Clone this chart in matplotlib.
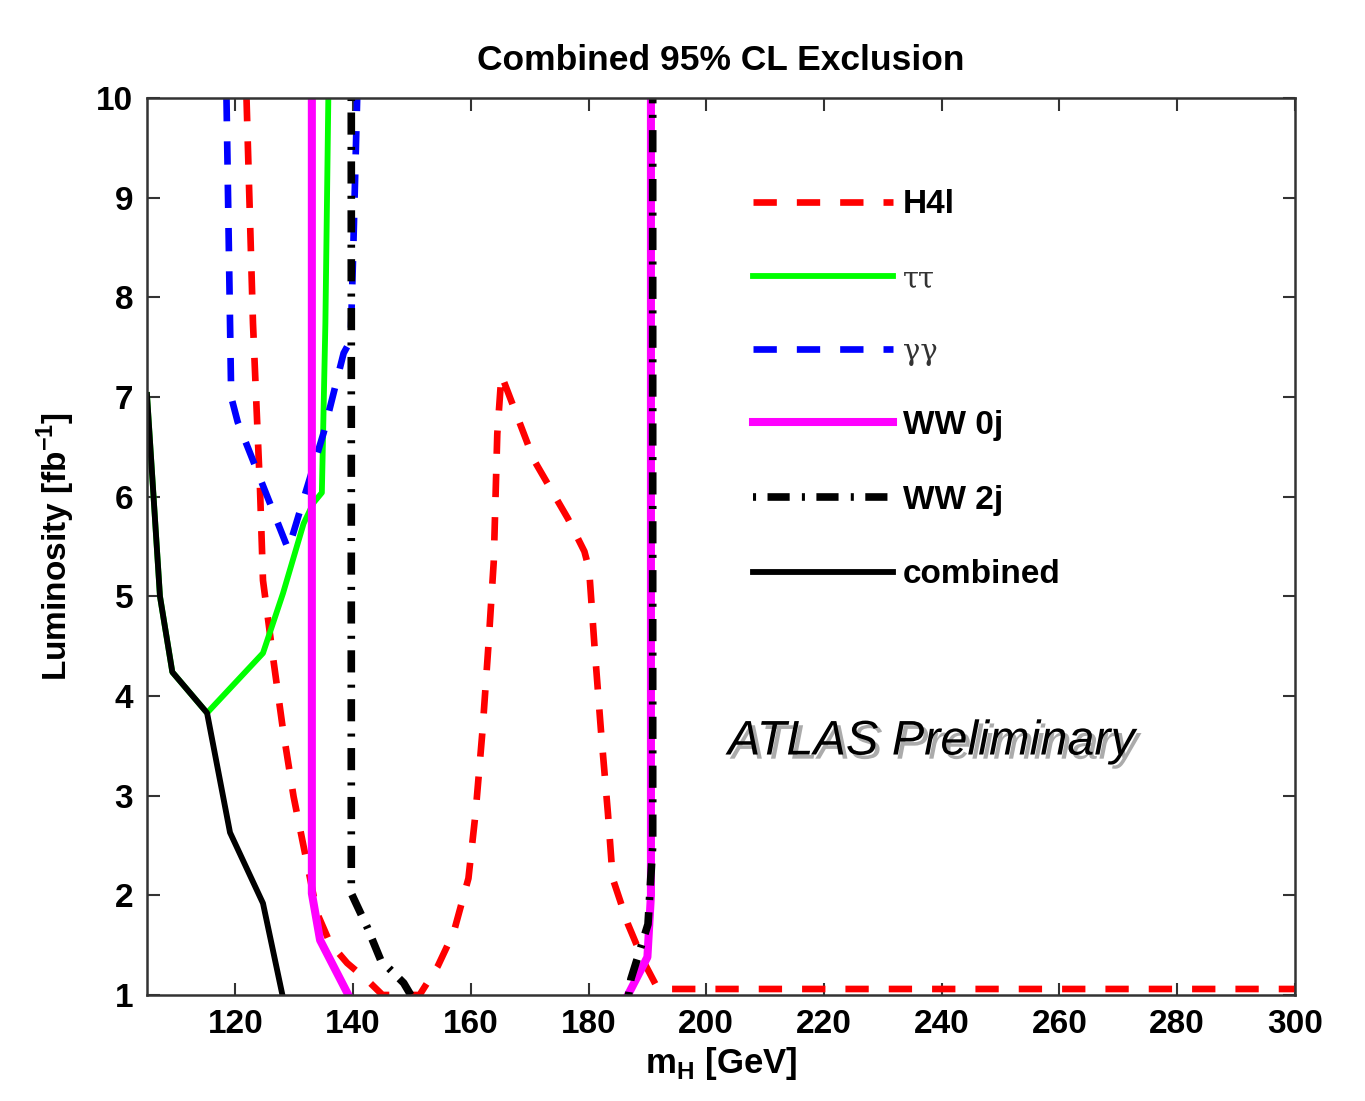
import numpy as np
from matplotlib import pyplot as plt
import matplotlib.patheffects as pe

plt.rcParams['font.family'] = ['Liberation Sans', 'DejaVu Sans']

# H4l (single contour)
h4l_m = [121.9, 123.0, 123.6, 124.2, 124.7, 126.4, 128.1, 129.9, 131.6, 133.9, 136.1, 139.0, 142.4, 145.0,
         151.3, 154.4, 157.1, 159.6, 160.8, 162.0, 163.0, 163.9, 164.5, 165.2, 170.7, 176.5, 179.3, 180.1,
         181.0, 182.1, 183.3, 184.1, 186.7, 189.4, 191.8, 193.0, 300.0]
h4l_L = [10, 7.74, 6.9, 6.07, 5.16, 4.39, 3.66, 2.99, 2.49, 1.82, 1.52, 1.32, 1.15, 1.0,
         1.0, 1.29, 1.63, 2.17, 2.82, 3.66, 4.51, 5.35, 6.63, 7.22, 6.37, 5.78, 5.45, 5.27,
         4.51, 3.66, 2.82, 2.17, 1.71, 1.33, 1.06, 1.06, 1.06]

# tau tau
tt_m = [105.0, 107.2, 109.3, 115.2, 124.7, 128.1, 131.6, 133.3, 134.7, 135.3, 135.8]
tt_L = [7.02, 5.0, 4.24, 3.83, 4.43, 5.03, 5.73, 5.94, 6.04, 7.74, 10]

# gamma gamma
gg_m = [118.5, 119.3, 120.4, 129.0, 135.0, 138.4, 139.6, 140.0, 140.7]
gg_L = [10, 7.0, 6.75, 5.47, 6.64, 7.44, 7.57, 8.4, 10]

# WW 0j (two pieces)
ww0a_m = [133.0, 133.0, 134.4, 139.2]
ww0a_L = [10, 2.02, 1.55, 1.0]
ww0b_m = [186.7, 190.0, 190.6, 190.6]
ww0b_L = [1.0, 1.38, 2.0, 10]

# WW 2j (two pieces)
ww2a_m = [139.7, 139.7, 142.4, 144.7, 148.6, 149.8]
ww2a_L = [10, 2.02, 1.68, 1.35, 1.12, 1.0]
ww2b_m = [186.8, 187.2, 190.1, 190.9, 190.9]
ww2b_L = [1.0, 1.16, 1.71, 2.5, 10]

# combined
comb_m = [105.0, 107.2, 109.3, 115.2, 119.1, 124.7, 128.0]
comb_L = [7.02, 5.0, 4.24, 3.83, 2.63, 1.92, 1.0]

xticks = [120, 140, 160, 180, 200, 220, 240, 260, 280, 300]
yticks = [1, 2, 3, 4, 5, 6, 7, 8, 9, 10]

fig = plt.figure(figsize=(13.65, 11.01), dpi=100)
ax = fig.add_axes([0.1077, 0.0963, 0.8410, 0.8147])

dash = (0, (3.5, 3.0))
dashdot = (0, (0.4, 1.5, 2.9, 1.6))

ax.plot(h4l_m, h4l_L, color='#ff0000', lw=4.8, ls=dash, label='H4l')
ax.plot(tt_m, tt_L, color='#00ff00', lw=4.2, label='ττ')
ax.plot(gg_m, gg_L, color='#0000ff', lw=4.8, ls=dash, label='γγ')
ax.plot(ww0a_m, ww0a_L, color='#ff00ff', lw=5.8, label='WW 0j')
ax.plot(ww0b_m, ww0b_L, color='#ff00ff', lw=5.8)
ax.plot(ww2a_m, ww2a_L, color='black', lw=5.5, ls=dashdot, label='WW 2j')
ax.plot(ww2b_m, ww2b_L, color='black', lw=5.5, ls=dashdot)
ax.plot(comb_m, comb_L, color='black', lw=4.2, label='combined')

ax.set_xlim(105, 300)
ax.set_ylim(1, 10)
ax.set_xticks(xticks)
ax.set_yticks(yticks)
ax.tick_params(direction='in', length=9, width=1.5, top=True, right=True,
               labelsize=24, pad=10, color='#333333')
for lab in ax.get_xticklabels() + ax.get_yticklabels():
    lab.set_fontweight('bold')
for s in ax.spines.values():
    s.set_linewidth(1.8)
    s.set_color('#333333')

ax.set_title('Combined 95% CL Exclusion', fontsize=25.5, fontweight='bold', pad=20)
ax.set_xlabel(r'm$_\mathregular{H}$ [GeV]', fontsize=25, fontweight='bold', labelpad=4)
ax.set_ylabel(r'Luminosity [fb$^\mathregular{-1}$]', fontsize=24, fontweight='bold', labelpad=14)

leg = ax.legend(loc='upper left', bbox_to_anchor=(0.516, 0.913), frameon=False,
                fontsize=24, handlelength=4.2, handletextpad=0.3, labelspacing=1.31,
                borderaxespad=0)
for t in leg.get_texts():
    if t.get_text() in ('ττ', 'γγ'):
        t.set_fontfamily('DejaVu Serif')
        t.set_fontsize(21)
        t.set_color('#333333')
    else:
        t.set_fontweight('bold')

ax.text(0.506, 0.282, 'ATLAS Preliminary', transform=ax.transAxes, fontsize=35,
        fontstyle='italic', va='center', ha='left',
        path_effects=[pe.withSimplePatchShadow(offset=(3, -3), shadow_rgbFace='#888888', alpha=0.7)])

fig.savefig('out.png', dpi=100)
